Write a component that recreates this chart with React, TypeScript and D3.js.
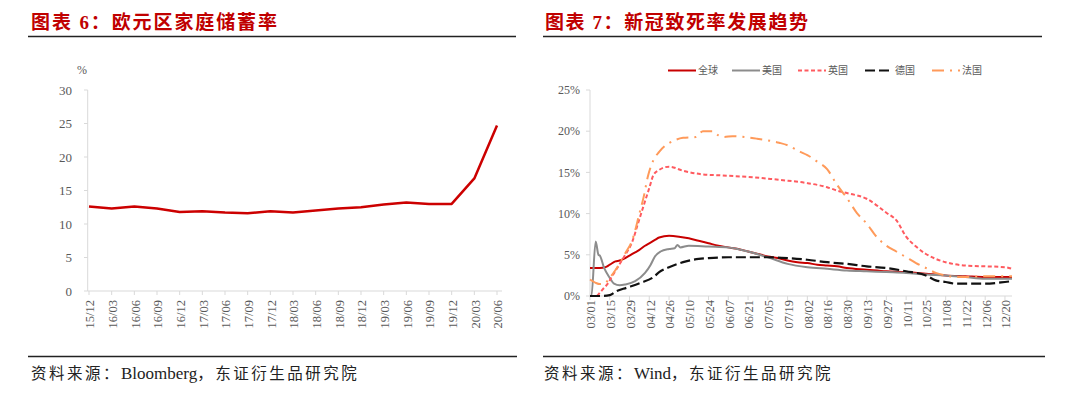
import React from "react";
import * as d3 from "d3";

// 图表6 欧元区家庭储蓄率
const savingDates = ["15/12","16/03","16/06","16/09","16/12","17/03","17/06","17/09","17/12","18/03","18/06","18/09","18/12","19/03","19/06","19/09","19/12","20/03","20/06"];
const savingRate = [12.6,12.3,12.6,12.3,11.8,11.9,11.7,11.6,11.9,11.7,12.0,12.3,12.5,12.9,13.2,13.0,13.0,16.8,24.7];
const savingTicks = [0,5,10,15,20,25,30];

// 图表7 新冠致死率 (%)
type P = [string, number];
const globalRate: P[] = [["03-01",3.4],["03-08",3.4],["03-12",3.5],["03-15",3.8],["03-19",4.2],["03-22",4.3],["03-26",4.6],["03-29",4.9],["04-02",5.3],["04-05",5.6],["04-09",6.1],["04-12",6.4],["04-16",6.8],["04-19",7.1],["04-26",7.3],["05-03",7.2],["05-10",7.0],["05-17",6.7],["05-24",6.4],["05-31",6.1],["06-07",5.9],["06-14",5.7],["06-21",5.4],["06-28",5.1],["07-05",4.8],["07-12",4.6],["07-19",4.3],["07-26",4.1],["08-02",4.0],["08-09",3.8],["08-16",3.7],["08-23",3.6],["08-30",3.4],["09-13",3.2],["09-27",3.0],["10-11",2.9],["10-25",2.7],["11-08",2.5],["11-22",2.4],["12-06",2.3],["12-20",2.3],["12-25",2.3]];
const usRate: P[] = [["03-01",0],["03-02",0],["03-05",6.6],["03-07",5.0],["03-08",4.9],["03-11",3.4],["03-15",2.2],["03-18",1.5],["03-22",1.3],["03-26",1.4],["04-02",1.8],["04-09",2.8],["04-13",3.8],["04-16",4.8],["04-20",5.4],["04-26",5.7],["04-30",5.8],["05-02",6.2],["05-04",5.9],["05-10",6.1],["05-24",6.0],["06-07",5.9],["06-21",5.4],["07-05",4.7],["07-19",3.9],["08-02",3.5],["08-16",3.3],["08-30",3.1],["09-13",3.0],["09-27",2.9],["10-11",2.8],["10-25",2.6],["11-08",2.5],["11-22",2.3],["12-06",2.1],["12-20",2.1],["12-25",2.1]];
const ukRate: P[] = [["03-06",0],["03-10",0.8],["03-14",1.6],["03-16",2.2],["03-21",3.6],["03-26",5.0],["03-31",6.6],["04-04",8.8],["04-09",11.5],["04-12",13.1],["04-15",14.7],["04-19",15.3],["04-26",15.7],["05-06",15.2],["05-18",14.8],["06-06",14.6],["06-25",14.4],["07-13",14.1],["07-19",14.0],["08-02",13.7],["08-16",13.2],["08-23",12.8],["08-30",12.5],["09-13",11.8],["09-27",10.1],["10-04",9.2],["10-11",7.2],["10-18",6.0],["10-25",5.1],["11-01",4.5],["11-08",4.1],["11-22",3.7],["12-06",3.6],["12-20",3.5],["12-25",3.3]];
const deRate: P[] = [["03-01",0],["03-10",0],["03-15",0.1],["03-20",0.6],["03-27",1.0],["04-06",1.6],["04-15",2.3],["04-19",2.9],["04-26",3.5],["05-08",4.2],["05-17",4.5],["05-24",4.6],["06-07",4.7],["06-21",4.7],["07-05",4.7],["07-19",4.6],["08-02",4.4],["08-16",4.1],["08-30",3.9],["09-13",3.6],["09-27",3.4],["10-11",3.0],["10-25",2.5],["11-01",1.9],["11-08",1.7],["11-15",1.5],["11-22",1.5],["12-06",1.5],["12-20",1.7],["12-25",1.8]];
const frRate: P[] = [["03-01",2.0],["03-05",1.6],["03-08",1.45],["03-11",1.5],["03-15",2.2],["03-20",3.4],["03-26",5.2],["03-31",6.8],["04-05",10.0],["04-08",12.0],["04-11",14.5],["04-15",16.5],["04-19",17.5],["04-30",18.9],["05-06",19.2],["05-15",19.3],["05-20",20.0],["05-27",20.0],["05-31",19.5],["06-04",19.3],["06-10",19.4],["06-27",19.1],["07-13",18.6],["07-19",18.3],["07-28",17.5],["08-02",17.1],["08-09",16.3],["08-16",15.4],["08-23",13.5],["08-30",11.9],["09-06",10.1],["09-13",8.8],["09-20",7.2],["09-27",6.1],["10-04",5.4],["10-11",4.7],["10-18",4.0],["10-25",3.4],["11-01",2.8],["11-08",2.5],["11-15",2.3],["11-22",2.3],["12-06",2.4],["12-20",2.4],["12-25",2.4]];
const rateTicks = [0,5,10,15,20,25];
const rateDateTicks = ["03/01","03/15","03/29","04/12","04/26","05/10","05/24","06/07","06/21","07/05","07/19","08/02","08/16","08/30","09/13","09/27","10/11","10/25","11/08","11/22","12/06","12/20"];

const series = [
  { name: "全球", data: globalRate, color: "#C80000", dash: "", w: 2 },
  { name: "美国", data: usRate, color: "#8C8C8C", dash: "", w: 2 },
  { name: "英国", data: ukRate, color: "#FF5A5F", dash: "4,2.5", w: 2 },
  { name: "德国", data: deRate, color: "#111111", dash: "10,4", w: 2.2 },
  { name: "法国", data: frRate, color: "#FF9A5A", dash: "12,6,2,6", w: 2 },
];

const parse = (s: string) => d3.timeParse("%Y-%m-%d")("2020-" + s) as Date;
const parseTick = (s: string) => d3.timeParse("%Y/%m/%d")("2020/" + s) as Date;

const serif = "'Liberation Serif','Times New Roman',serif";
const cjk = "'Liberation Serif','Noto Sans CJK SC',serif";
const labelColor = "#595959";
const axisColor = "#D9D9D9";

const Source = ({ x, name }: { x: number; name: string }) => (
  <text x={x} y={379} fontSize={15.5} fill="#222" fontFamily={cjk}>
    <tspan letterSpacing={2.5}>资料来源：</tspan>
    <tspan fontSize={17} letterSpacing={0}>{name}</tspan>
    <tspan letterSpacing={2.5}>，东证衍生品研究院</tspan>
  </text>
);

export default function App() {
  // left chart scales
  const x1 = d3.scalePoint<string>().domain(savingDates).range([89, 497]);
  const y1 = d3.scaleLinear().domain([0, 30]).range([291, 90]);
  const line1 = d3.line<number>()
    .x((_, i) => x1(savingDates[i]) as number)
    .y((d) => y1(d));

  // right chart scales
  const x2 = d3.scaleTime().domain([parse("03-01"), parse("12-25")]).range([590, 1012]);
  const y2 = d3.scaleLinear().domain([0, 25]).range([296, 90]);
  const line2 = d3.line<P>()
    .x((d) => x2(parse(d[0])))
    .y((d) => y2(d[1]))
    .curve(d3.curveMonotoneX);

  const legendX = [668, 732, 798, 865, 932];

  return (
    <svg width={1080} height={397} style={{ position: "absolute", left: 0, top: 0, background: "#fff" }}>
      {/* titles */}
      <text x={31} y={29} fill="#C00000" fontSize={19} fontWeight="bold" fontFamily={cjk} textLength={246} lengthAdjust="spacing">图表 6：欧元区家庭储蓄率</text>
      <text x={545} y={29} fill="#C00000" fontSize={19} fontWeight="bold" fontFamily={cjk} textLength={263} lengthAdjust="spacing">图表 7：新冠致死率发展趋势</text>
      <line x1={28} x2={516} y1={36.5} y2={36.5} stroke="#222" strokeWidth={1.6} />
      <line x1={543} x2={1042} y1={36.5} y2={36.5} stroke="#222" strokeWidth={1.6} />

      {/* left chart */}
      <g>
        <text x={82} y={74} fontSize={12} fill={labelColor} fontFamily={serif} textAnchor="middle">%</text>
        <line x1={87.7} x2={87.7} y1={90} y2={291} stroke={axisColor} />
        <line x1={87.7} x2={502} y1={291} y2={291} stroke={axisColor} />
        {savingTicks.map((t) => (
          <g key={t}>
            <line x1={84} x2={87.7} y1={y1(t)} y2={y1(t)} stroke={axisColor} />
            <text x={72} y={y1(t)} dy="0.35em" textAnchor="end" fontSize={13} fill={labelColor} fontFamily={serif}>{t}</text>
          </g>
        ))}
        {savingDates.map((d) => (
          <g key={d}>
            <line x1={x1(d)} x2={x1(d)} y1={291} y2={295} stroke={axisColor} />
            <text transform={`translate(${(x1(d) as number) + 1},300) rotate(-90)`} dy="0.35em" textAnchor="end" fontSize={12.5} fill={labelColor} fontFamily={serif}>{d}</text>
          </g>
        ))}
        <path d={line1(savingRate) || ""} fill="none" stroke="#CC0000" strokeWidth={2.5} strokeLinejoin="round" />
      </g>

      {/* right chart */}
      <g>
        <line x1={590} x2={590} y1={90} y2={296} stroke={axisColor} />
        <line x1={590} x2={1012} y1={296} y2={296} stroke={axisColor} />
        {rateTicks.map((t) => (
          <g key={t}>
            <line x1={586} x2={590} y1={y2(t)} y2={y2(t)} stroke={axisColor} />
            <text x={580} y={y2(t)} dy="0.35em" textAnchor="end" fontSize={12} fill={labelColor} fontFamily={serif}>{t + "%"}</text>
          </g>
        ))}
        {rateDateTicks.map((d) => {
          const x = x2(parseTick(d));
          return (
            <g key={d}>
              <line x1={x} x2={x} y1={296} y2={300} stroke={axisColor} />
              <text transform={`translate(${x + 1},300) rotate(-90)`} dy="0.35em" textAnchor="end" fontSize={12.5} fill={labelColor} fontFamily={serif}>{d}</text>
            </g>
          );
        })}
        {series.map((s) => (
          <path key={s.name} d={line2(s.data) || ""} fill="none" stroke={s.color} strokeWidth={s.w} strokeDasharray={s.dash} strokeLinejoin="round" />
        ))}
        {series.map((s, i) => (
          <g key={s.name} transform={`translate(${legendX[i]},70.5)`}>
            <line x1={0} x2={28} y1={0} y2={0} stroke={s.color} strokeWidth={s.w} strokeDasharray={s.dash} />
            <text x={30} y={0} dy="0.35em" fontSize={10} fill={labelColor} fontFamily={cjk}>{s.name}</text>
          </g>
        ))}
      </g>

      {/* sources */}
      <line x1={28} x2={517} y1={356.5} y2={356.5} stroke="#222" strokeWidth={1.6} />
      <line x1={543} x2={1045} y1={356.5} y2={356.5} stroke="#222" strokeWidth={1.6} />
      <Source x={31} name="Bloomberg" />
      <Source x={544} name="Wind" />
    </svg>
  );
}
